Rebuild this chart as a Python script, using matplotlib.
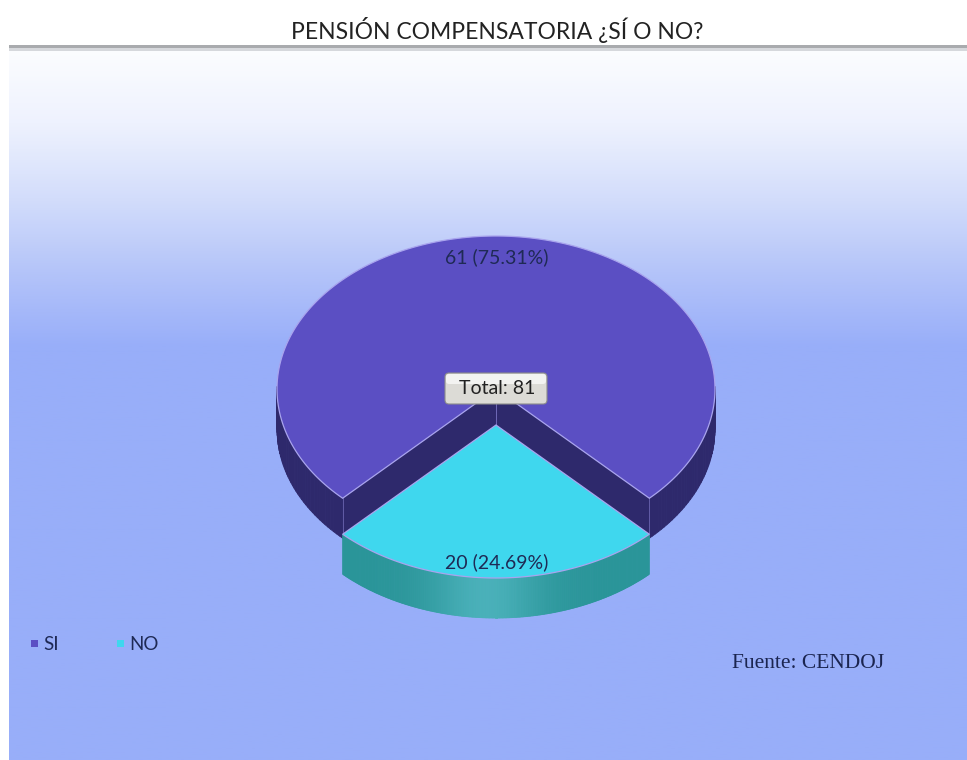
import matplotlib.pyplot as plt
import numpy as np
from matplotlib.colors import LinearSegmentedColormap, to_rgb
from matplotlib.patches import FancyBboxPatch, Rectangle
from matplotlib.collections import PolyCollection

# datos
labels = ['SI', 'NO']
values = [61, 20]
top_colors = ['#5b4fc3', '#3fd7ee']
side_colors = ['#2e296c', '#2a9599']

total = sum(values)
fracs = [v / total for v in values]

fig = plt.figure(figsize=(9.67, 7.60), dpi=100)
ax = fig.add_axes([0, 0, 1, 1])
ax.set_xlim(0, 967)
ax.set_ylim(760, 0)
ax.axis('off')

# fondo con degradado
grad = np.linspace(0, 1, 400)
grad = np.clip(grad / 0.42, 0, 1)
cmap = LinearSegmentedColormap.from_list('bg', ['#fcfdff', '#eef2fe', '#d3ddfb', '#b4c4f9', '#98aef9'])
ax.imshow(grad[:, None], extent=[9, 967, 760, 48], cmap=cmap, aspect='auto', zorder=0)
ax.add_patch(Rectangle((9, 45), 958, 3, color='#a9abae', lw=0, zorder=1))
ax.add_patch(Rectangle((9, 48), 958, 3, color='#d6d8dc', lw=0, zorder=1))

# geometria del pastel 3D
cx, cy = 496, 389
ra, rb = 219, 153
depth = 40
explode = [0, 36]

# NO centrado abajo (270 grados), SI el resto
no_span = 360 * fracs[1]
starts = [270 + no_span / 2, 270 - no_span / 2]
spans = [360 * fracs[0], no_span]


def pt(t, dy=0, ox=0, oy=0):
    r = np.radians(t)
    return cx + ox + ra * np.cos(r), cy + oy - rb * np.sin(r) + dy


def arc(t0, t1, n=200, dy=0, oy=0):
    t = np.linspace(t0, t1, n)
    x, y = pt(t, dy, 0, oy)
    return np.column_stack([x, y])


line_col = '#a9a4ee'

for i in range(2):
    t0 = starts[i]
    t1 = t0 + spans[i]
    oy = explode[i]
    side = side_colors[i]
    top = top_colors[i]

    # caras de corte (solo visibles en SI)
    if i == 0:
        for te in (t0, t1):
            ex, ey = pt(te, 0, 0, oy)
            poly = [(cx, cy + oy), (ex, ey), (ex, ey + depth), (cx, cy + oy + depth)]
            ax.add_patch(plt.Polygon(poly, closed=True, fc=side, ec=side, lw=0.5, zorder=2))
            ax.plot([ex, ex], [ey, ey + depth], color='#6a64b0', lw=0.6, zorder=3)
        ax.plot([cx, cx], [cy + oy, cy + oy + depth], color='#7a74c4', lw=0.6, zorder=3)

    # borde frontal con degradado
    tt = np.linspace(t0, t1, 240)
    front = np.sin(np.radians(tt)) < 0.02
    quads, cols = [], []
    base = np.array(to_rgb(side))
    for k in range(len(tt) - 1):
        if not (front[k] and front[k + 1]):
            continue
        x0, y0 = pt(tt[k], 0, 0, oy)
        x1, y1 = pt(tt[k + 1], 0, 0, oy)
        quads.append([(x0, y0), (x1, y1), (x1, y1 + depth), (x0, y0 + depth)])
        shade = np.exp(-((np.cos(np.radians(tt[k])) + 0.05) ** 2) / 0.06)
        if i == 1:
            c = base + (np.array([0.34, 0.74, 0.78]) - base) * shade * 0.7
        else:
            c = base + (np.array([0.26, 0.23, 0.55]) - base) * shade * 0.3
        cols.append(np.clip(c, 0, 1))
    pc = PolyCollection(quads, facecolors=cols, edgecolors=cols, linewidths=0.6, zorder=2 + 2 * i)
    ax.add_collection(pc)

    # cara superior
    pts = np.vstack([[cx, cy + oy], arc(t0, t1, oy=oy), [cx, cy + oy]])
    ax.add_patch(plt.Polygon(pts, closed=True, fc=top, ec=line_col, lw=0.9, zorder=3 + 2 * i))

# etiquetas de valores
lab_pos = [(497, 257), (497, 562)]
for i in range(2):
    ax.text(lab_pos[i][0], lab_pos[i][1], f'{values[i]} ({fracs[i] * 100:.2f}%)',
            ha='center', va='center', fontsize=14, color='#1f2a55', family='Lato', zorder=10)

# caja de total
box = FancyBboxPatch((445, 373), 102, 31, boxstyle='round,pad=0,rounding_size=4',
                     fc='#dcdbd6', ec='#8c8c8c', lw=0.8, zorder=9)
ax.add_patch(box)
ax.add_patch(FancyBboxPatch((446, 374), 100, 10, boxstyle='round,pad=0,rounding_size=3',
                            fc='#f3f3f1', ec='none', zorder=9))
ax.text(497, 389, f'Total: {total}', ha='center', va='center', fontsize=14,
        color='#222222', family='Lato', zorder=10)

# titulo
ax.text(497, 30, 'PENSIÓN COMPENSATORIA ¿SÍ O NO?', ha='center', va='center',
        fontsize=16.5, color='#222222', family='Lato', zorder=10)

# leyenda
leg_x = [35, 121]
for i in range(2):
    ax.add_patch(Rectangle((leg_x[i] - 4, 640), 7, 7, color=top_colors[i], lw=0, zorder=10))
    ax.text(leg_x[i] + 8, 644, labels[i], ha='left', va='center', fontsize=13.5,
            color='#1f2a55', family='Lato', zorder=10)

# fuente
ax.text(732, 664, 'Fuente: CENDOJ', ha='left', va='center', fontsize=15.5,
        color='#1b2550', family='Liberation Serif', zorder=10)

fig.savefig('out.png', dpi=100)
